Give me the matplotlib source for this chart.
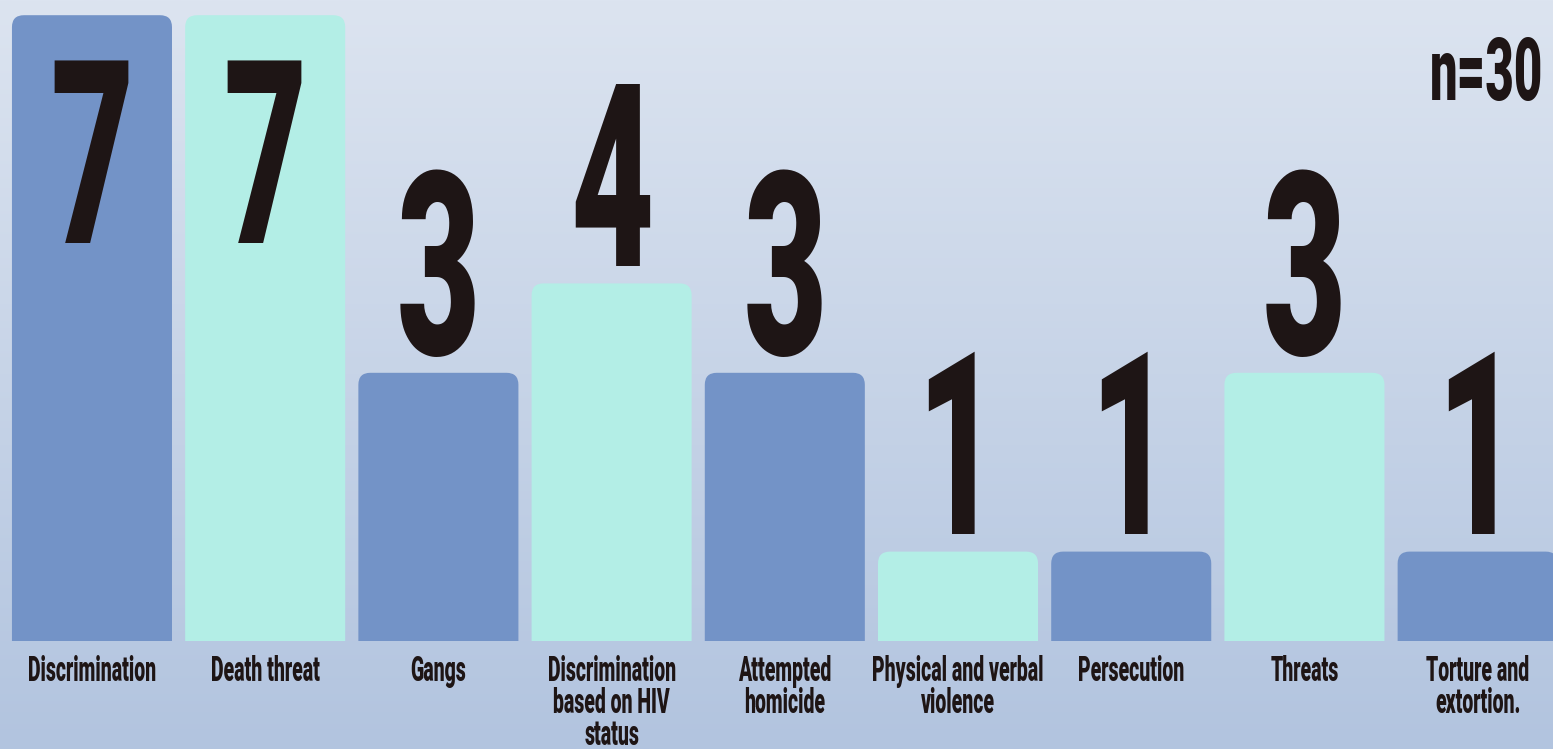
import matplotlib
matplotlib.use("Agg")
import matplotlib.pyplot as plt
from matplotlib import font_manager as fm
from matplotlib.patches import FancyBboxPatch, Rectangle
from matplotlib.colors import LinearSegmentedColormap
import numpy as np

# data
categories = ["Discrimination", "Death threat", "Gangs", "Discrimination\nbased on HIV\nstatus",
              "Attempted\nhomicide", "Physical and verbal\nviolence", "Persecution", "Threats",
              "Torture and\nextortion."]
values = [7, 7, 3, 4, 3, 1, 1, 3, 1]
total_label = "n=30"

blue = "#7393c7"
mint = "#b3eee6"
ink = "#1e1515"


def make_condensed(sx, newname):
    # squeeze a bold installed font horizontally, save it and register it
    from fontTools.ttLib import TTFont
    for fam in ["Roboto", "Liberation Sans", "DejaVu Sans"]:
        path = fm.findfont(fm.FontProperties(family=fam, weight="heavy"), fallback_to_default=False)
        f = TTFont(path)
        if "glyf" in f and "fvar" not in f:
            break
    glyf = f["glyf"]
    hmtx = f["hmtx"]
    for name in f.getGlyphOrder():
        g = glyf[name]
        if g.isComposite():
            for c in g.components:
                c.x = int(round(c.x * sx))
        elif g.numberOfContours > 0:
            coords = g.coordinates
            for k in range(len(coords)):
                x, y = coords[k]
                coords[k] = (int(round(x * sx)), y)
        aw, lsb = hmtx[name]
        hmtx[name] = (int(round(aw * sx)), int(round(lsb * sx)))
    if "kern" in f:
        for st in f["kern"].kernTables:
            for key in st.kernTable:
                st.kernTable[key] = int(round(st.kernTable[key] * sx))
    for tag in ["hdmx", "LTSH", "VDMX"]:
        if tag in f:
            del f[tag]
    for rec in f["name"].names:
        if rec.nameID in (1, 16):
            rec.string = newname
        elif rec.nameID == 4:
            rec.string = newname + " Bold"
        elif rec.nameID == 6:
            rec.string = newname.replace(" ", "") + "-Bold"
        elif rec.nameID in (2, 17):
            rec.string = "Bold"
    f.save("cond.ttf")
    fm.fontManager.addfont("cond.ttf")
    return newname


try:
    font = make_condensed(0.56, "Squeeze Sans")
    sizes = (185, 25, 63)
except Exception:
    font = "DejaVu Sans"
    sizes = (120, 13, 40)

fig = plt.figure(figsize=(15.53, 7.49), dpi=100)
ax = fig.add_axes([0, 0, 1, 1])
x0, x1, y0, y1 = -0.531, 8.435, -1.208, 7.17

# gradient background
grad = np.linspace(0, 1, 256).reshape(-1, 1)
cmap = LinearSegmentedColormap.from_list("bg", ["#dce4f0", "#b2c4df"])
ax.imshow(grad, extent=(x0, x1, y0, y1), aspect="auto", cmap=cmap, origin="upper", zorder=0)
ax.set_xlim(x0, x1)
ax.set_ylim(y0, y1)
ax.axis("off")

clip = Rectangle((-1, 0), 20, 20, transform=ax.transData)
width = 0.924
r = 0.069
for i, v in enumerate(values):
    color = blue if i % 2 == 0 else mint
    box = FancyBboxPatch((i - width / 2, -0.5), width, v + 0.5,
                         boxstyle=f"round,pad=0,rounding_size={r}",
                         mutation_aspect=1.937, fc=color, ec="none", zorder=2)
    ax.add_patch(box)
    box.set_clip_path(clip)

    if v == max(values):
        y = v - 0.5 - 2.05
    else:
        y = v + 0.2
    ax.text(i, y, str(v), ha="center", va="baseline", fontsize=sizes[0],
            fontweight="bold", color=ink, family=font, zorder=3)
    ax.text(i, -0.16, categories[i], ha="center", va="top", fontsize=sizes[1],
            fontweight="bold", color=ink, family=font, linespacing=0.96, zorder=3)

ax.text(8.38, 6.05, total_label, ha="right", va="baseline", fontsize=sizes[2],
        fontweight="bold", color=ink, family=font, zorder=3)

fig.savefig("out.png", dpi=100)
